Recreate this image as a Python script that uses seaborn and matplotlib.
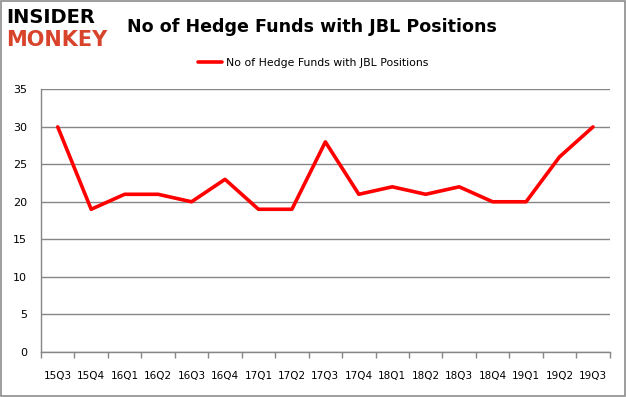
import numpy as np
import pandas as pd
import matplotlib as mpl
import matplotlib.pyplot as plt
plt.switch_backend('Agg')
import seaborn as sns

quarters = ["15Q3", "15Q4", "16Q1", "16Q2", "16Q3", "16Q4", "17Q1", "17Q2", "17Q3",
            "17Q4", "18Q1", "18Q2", "18Q3", "18Q4", "19Q1", "19Q2", "19Q3"]
num_funds = [30, 19, 21, 21, 20, 23, 19, 19, 28, 21, 22, 21, 22, 20, 20, 26, 30]
series_name = "No of Hedge Funds with JBL Positions"
y_ticks = [0, 5, 10, 15, 20, 25, 30, 35]

df = pd.DataFrame({"Quarter": quarters, series_name: num_funds})

sns.set_style("white")
plt.rcParams['font.family'] = ['DejaVu Sans']

fig = plt.figure(figsize=(6.26, 3.97), dpi=100)
ax = fig.add_axes([0.0655, 0.1146, 0.9085, 0.66])

mygray = "#868686"
sns.lineplot(ax=ax, data=df, x="Quarter", y=series_name, color="#FF0000",
             linewidth=2.6, label=series_name, sort=False)

ax.set_xlim(-0.5, len(quarters) - 0.5)
ax.set_ylim(0, 35)
ax.set_yticks(y_ticks)
ax.set_xticks(range(len(quarters)))
ax.set_xticklabels(quarters)
ax.set_xticks(np.arange(-0.5, len(quarters), 1), minor=True)
ax.tick_params(axis='x', which='major', bottom=False, length=0, pad=14, labelsize=7.5, labelcolor="black")
ax.tick_params(axis='x', which='minor', bottom=True, length=4, width=1, color=mygray, direction='out')
ax.tick_params(axis='y', left=False, length=0, labelsize=8, pad=10, labelcolor="black")
ax.set_xlabel("")
ax.set_ylabel("")
ax.yaxis.grid(True, color=mygray, linewidth=1)
ax.set_axisbelow(True)
for side in ["top", "right"]:
    ax.spines[side].set_visible(False)
for side in ["left", "bottom"]:
    ax.spines[side].set_color(mygray)
    ax.spines[side].set_linewidth(1)

leg = ax.legend(loc="lower center", bbox_to_anchor=(0.478, 1.045), frameon=False,
                fontsize=7.8, handlelength=2.3, handletextpad=0.3)
for t in leg.get_texts():
    t.set_color("black")

fig.text(0.498, 0.932, series_name, ha="center", va="center",
         fontsize=12.6, fontweight="bold", color="black")

# logo
fig.text(0.010, 0.955, "INSIDER", ha="left", va="center", fontsize=14,
         fontweight="bold", color="black")
fig.text(0.010, 0.898, "MONKEY", ha="left", va="center", fontsize=15,
         fontweight="bold", color="#D8432C")

fig.patches.append(mpl.patches.Rectangle((0.001, 0.002), 0.997, 0.996, transform=fig.transFigure,
                                         fill=False, edgecolor="#8C8C8C", linewidth=1.2))

plt.savefig("out.png", dpi=100)
